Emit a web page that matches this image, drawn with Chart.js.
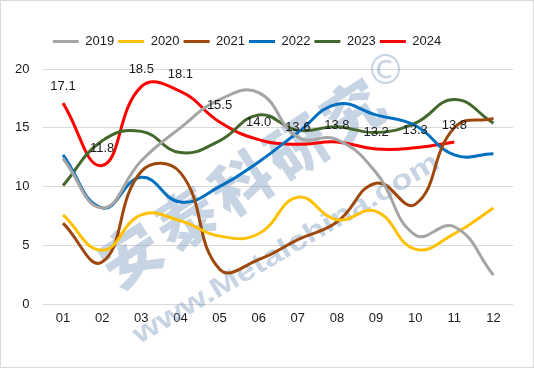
<!DOCTYPE html>
<html>
<head>
<meta charset="utf-8">
<script src="https://cdn.jsdelivr.net/npm/chart.js@4/dist/chart.umd.min.js"></script>
<style>
  html, body { margin: 0; padding: 0; background: #fff; }
  #wrap { width: 534px; height: 368px; box-sizing: border-box; border: 1px solid #d9d9d9; }
  canvas { display: block; }
</style>
</head>
<body>
<div id="wrap"><canvas id="chart" width="532" height="366"></canvas></div>
<script>
const months = ['01', '02', '03', '04', '05', '06', '07', '08', '09', '10', '11', '12'];
const years = ['2019', '2020', '2021', '2022', '2023', '2024'];
const yTicks = [0, 5, 10, 15, 20];

const s2019 = [12.4, 8.2, 12.2, 15.0, 17.4, 18.0, 14.2, 14.0, 11.2, 5.9, 6.6, 2.5];
const s2020 = [7.6, 4.6, 7.6, 7.1, 5.8, 6.0, 9.1, 7.2, 7.9, 4.7, 6.0, 8.2];
const s2021 = [6.9, 3.6, 11.3, 11.2, 3.0, 3.8, 5.5, 7.0, 10.3, 8.5, 15.0, 15.8];
const s2022 = [12.7, 8.2, 10.8, 8.7, 10.0, 12.1, 14.6, 17.0, 16.1, 15.2, 12.7, 12.8];
const s2023 = [10.1, 13.9, 14.7, 12.9, 13.9, 16.1, 14.8, 15.1, 14.6, 15.4, 17.4, 15.4];
const s2024 = [17.1, 11.8, 18.5, 18.1, 15.5, 14.0, 13.6, 13.8, 13.2, 13.3, 13.8];

const colors = ['#a5a5a5', '#ffc000', '#9e480e', '#0070c0', '#43682b', '#ff0000'];
const series = [s2019, s2020, s2021, s2022, s2023, s2024];

const font = { family: '"Liberation Sans", Arial, sans-serif', size: 13 };

// faint diagonal watermark behind the lines
const watermark = {
  id: 'watermark',
  beforeDatasetsDraw(chart) {
    const ctx = chart.ctx;
    const a = chart.chartArea;
    ctx.save();
    ctx.fillStyle = 'rgba(115,148,185,0.4)';
    ctx.textAlign = 'center';
    ctx.textBaseline = 'middle';
    ctx.font = '900 60px "Noto Sans CJK SC", sans-serif';
    const chars = ['安', '泰', '科', '研', '究'];
    chars.forEach((c, i) => {
      ctx.save();
      ctx.translate(a.left + 87 + 55.5 * i, a.top + 186 - 36 * i);
      ctx.rotate(-0.58);
      ctx.fillText(c, 0, 0);
      ctx.restore();
    });
    ctx.save();
    ctx.translate(a.left + 243, a.top + 180);
    ctx.rotate(-0.53);
    ctx.font = 'bold 28px "Liberation Sans", Arial, sans-serif';
    const url = 'www.Metalchina.com';
    const w = ctx.measureText(url).width;
    ctx.scale(350 / w, 1);
    ctx.fillText(url, 0, 0);
    ctx.restore();
    ctx.font = '40px "DejaVu Sans", sans-serif';
    ctx.fillText('©', a.left + 342, a.top + 5);
    ctx.restore();
  }
};

// labels above the 2024 points, like the Excel data labels
const valueLabels = {
  id: 'valueLabels',
  afterDatasetsDraw(chart) {
    const ctx = chart.ctx;
    const meta = chart.getDatasetMeta(5);
    ctx.save();
    ctx.font = '13px "Liberation Sans", Arial, sans-serif';
    ctx.fillStyle = '#1a1a1a';
    ctx.textAlign = 'center';
    ctx.textBaseline = 'middle';
    meta.data.forEach((pt, i) => {
      ctx.fillText(s2024[i].toFixed(1), pt.x, pt.y - 17);
    });
    ctx.restore();
  }
};

// more room under the legend, and nudge it a little to the left
const legendTweak = {
  id: 'legendTweak',
  beforeInit(chart) {
    const legend = chart.legend;
    const fit = legend.fit;
    legend.fit = function () {
      fit.call(this);
      this.height += 11;
    };
    const draw = legend.draw;
    legend.draw = function () {
      this.ctx.save();
      this.ctx.translate(-10, 0);
      draw.call(this);
      this.ctx.restore();
    };
  }
};

new Chart(document.getElementById('chart'), {
  type: 'line',
  data: {
    labels: months,
    datasets: years.map((y, i) => ({
      label: y,
      data: series[i],
      borderColor: colors[i],
      backgroundColor: colors[i],
      borderWidth: 3,
      pointRadius: 0,
      tension: 0.45,
      fill: false
    }))
  },
  options: {
    responsive: false,
    animation: false,
    layout: { padding: { top: 30, left: 0, right: 20, bottom: 35 } },
    plugins: {
      legend: {
        position: 'top',
        labels: {
          font,
          color: '#1a1a1a',
          boxWidth: 26,
          boxHeight: 3,
          padding: 4,
          generateLabels: chart =>
            Chart.defaults.plugins.legend.labels.generateLabels(chart)
              .map(l => ({ ...l, fillStyle: l.strokeStyle, lineWidth: 0 }))
        }
      },
      tooltip: { enabled: false }
    },
    scales: {
      x: {
        offset: true,
        grid: { display: false, drawTicks: false },
        border: { display: false },
        ticks: { font, color: '#1a1a1a', padding: 6 }
      },
      y: {
        min: 0,
        max: 20,
        afterBuildTicks: axis => { axis.ticks = yTicks.map(v => ({ value: v })); },
        grid: { color: '#d9d9d9', lineWidth: 1, drawTicks: false },
        border: { display: false },
        ticks: { font, color: '#1a1a1a', padding: 14 }
      }
    }
  },
  plugins: [watermark, valueLabels, legendTweak]
});
</script>
</body>
</html>
